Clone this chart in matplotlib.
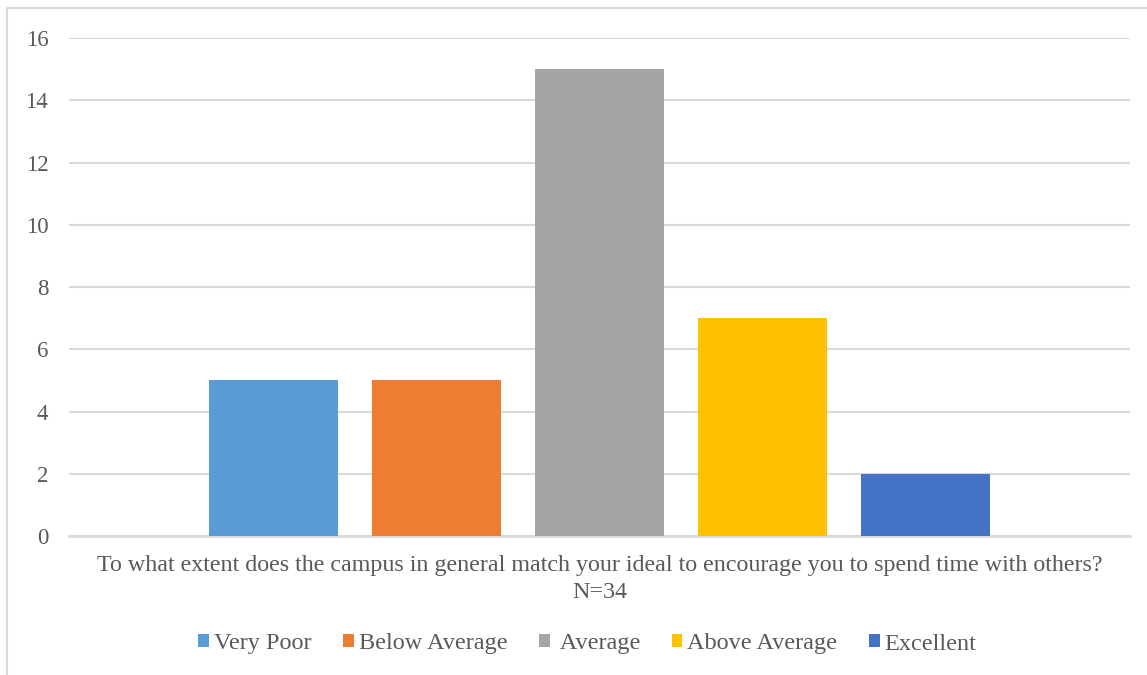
import matplotlib.pyplot as plt
from matplotlib.patches import Patch
from matplotlib.lines import Line2D

categories = ["Very Poor", "Below Average", " Average", "Above Average", "Excellent"]
counts = [5, 5, 15, 7, 2]
colors = ["#5B9BD5", "#ED7D31", "#A5A5A5", "#FFC000", "#4472C4"]
y_ticks = [0, 2, 4, 6, 8, 10, 12, 14, 16]
question = ("To what extent does the campus in general match your ideal to "
            "encourage you to spend time with others?")
sample = "N=34"

text_color = "#595959"
grid_color = "#D9D9D9"

plt.rcParams['font.family'] = ['Liberation Serif', 'DejaVu Serif']

fig = plt.figure(figsize=(11.47, 6.75), dpi=100)
ax = fig.add_axes([0.0602, 0.2059, 0.925, 0.7378])

positions = list(range(len(categories)))
ax.bar(positions, counts, width=0.79, color=colors, zorder=3)

ax.set_xlim(-1.255, 5.255)
ax.set_ylim(0, 16)
ax.set_yticks(y_ticks)
ax.set_xticks([])
ax.tick_params(axis='y', length=0, pad=15, labelsize=16.5, labelcolor=text_color)

ax.grid(axis='y', color=grid_color, linewidth=1.5, zorder=0)
for side in ['top', 'right', 'left']:
    ax.spines[side].set_visible(False)
ax.spines['bottom'].set_color(grid_color)
ax.spines['bottom'].set_linewidth(2)
ax.spines['bottom'].set_zorder(2)

# category caption under the axis
fig.text(0.5225, 1 - 565 / 675, question, ha='center', va='center',
         fontsize=17.3, color=text_color)
fig.text(0.5225, 1 - 593 / 675, sample, ha='center', va='center',
         fontsize=17.3, color=text_color)

handles = [Patch(facecolor=c, edgecolor='none') for c in colors]
leg = fig.legend(handles, categories, loc='center', ncol=5,
                 bbox_to_anchor=(0.512, 1 - 644 / 675), frameon=False,
                 fontsize=17.5, handlelength=0.45, handleheight=0.45,
                 handletextpad=0.2, columnspacing=1.3)
for t in leg.get_texts():
    t.set_color(text_color)

# chart outline along the left and top edges
fig.add_artist(Line2D([7 / 1147, 7 / 1147], [0, 1 - 8 / 675],
                      transform=fig.transFigure, color=grid_color, linewidth=1.5))
fig.add_artist(Line2D([7 / 1147, 1], [1 - 8 / 675, 1 - 8 / 675],
                      transform=fig.transFigure, color=grid_color, linewidth=1.5))

fig.savefig("out.png", dpi=100)
